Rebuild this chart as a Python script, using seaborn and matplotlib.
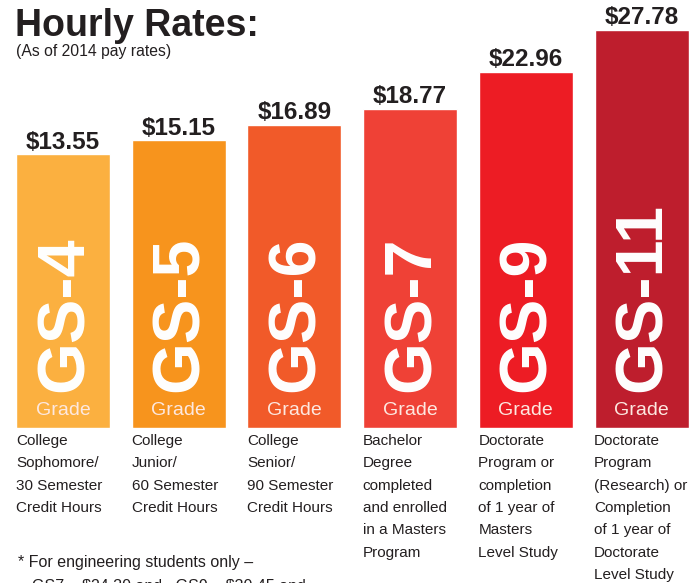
import numpy as np
import pandas as pd
import matplotlib
matplotlib.use("Agg")
import matplotlib.pyplot as plt
import seaborn as sns

grades = ["GS-4", "GS-5", "GS-6", "GS-7", "GS-9", "GS-11"]
rates = [13.55, 15.15, 16.89, 18.77, 22.96, 27.78]
descriptions = [
    "College\nSophomore/\n30 Semester\nCredit Hours",
    "College\nJunior/\n60 Semester\nCredit Hours",
    "College\nSenior/\n90 Semester\nCredit Hours",
    "Bachelor\nDegree\ncompleted\nand enrolled\nin a Masters\nProgram",
    "Doctorate\nProgram or\ncompletion\nof 1 year of\nMasters\nLevel Study",
    "Doctorate\nProgram\n(Research) or\nCompletion\nof 1 year of\nDoctorate\nLevel Study",
]
bar_colors = ["#FBB040", "#F7941D", "#F15A29", "#EF4136", "#ED1C24", "#BE1E2D"]

# the infographic bars don't start at $0, they hang down from a floor value
base = -17.7
df = pd.DataFrame({"grade": grades, "rate": rates})
df["span"] = df["rate"] - base

sns.set_theme(style="white")
plt.rcParams["font.family"] = ["Liberation Sans", "DejaVu Sans"]

fig = plt.figure(figsize=(6.89, 5.83), dpi=100)
ax = fig.add_axes([0, 1 - 428 / 583, 1, 428 / 583])

sns.barplot(data=df, x="grade", y="span", hue="grade", palette=bar_colors,
            legend=False, width=0.813, bottom=base, ax=ax, saturation=1)
ax.set_xlim(-0.545, 5.41)
ax.set_ylim(base, 31.2)
ax.axis("off")

for i, (g, r) in enumerate(zip(grades, rates)):
    ax.text(i, r + 0.1, f"${r:.2f}", ha="center", va="bottom",
            fontsize=17.5, fontweight="bold", color="#231F20")
    ax.text(i + 0.02, base + 4.1, g, rotation=90, ha="center", va="bottom",
            fontsize=48, fontweight="bold", color="white")
    ax.text(i, base + 1.95, "Grade", ha="center", va="center",
            fontsize=14, color="#FDE8E0")

# descriptions under each bar
for i, d in enumerate(descriptions):
    x_fig = (16 + i * 115.6) / 689
    fig.text(x_fig, 1 - 434 / 583, d, ha="left", va="top", fontsize=11,
             color="#231F20", linespacing=1.76)

fig.text(15 / 689, 1 - 36 / 583, "Hourly Rates:", ha="left", va="baseline",
         fontsize=27, fontweight="bold", color="#231F20")
fig.text(16 / 689, 1 - 56 / 583, "(As of 2014 pay rates)", ha="left",
         va="baseline", fontsize=11.3, color="#231F20")

# footnote, second line runs off the bottom like in the original
fig.text(18 / 689, 1 - 563 / 583, "* For engineering students only \u2013",
         ha="left", va="center", fontsize=11.5, color="#231F20")
fig.text(32 / 689, 1 - 586 / 583,
         "GS7 \u2013 \\$24.30 and   GS9 \u2013 \\$30.45 and",
         ha="left", va="center", fontsize=11.5, color="#231F20")

fig.savefig("out.png", dpi=100)
